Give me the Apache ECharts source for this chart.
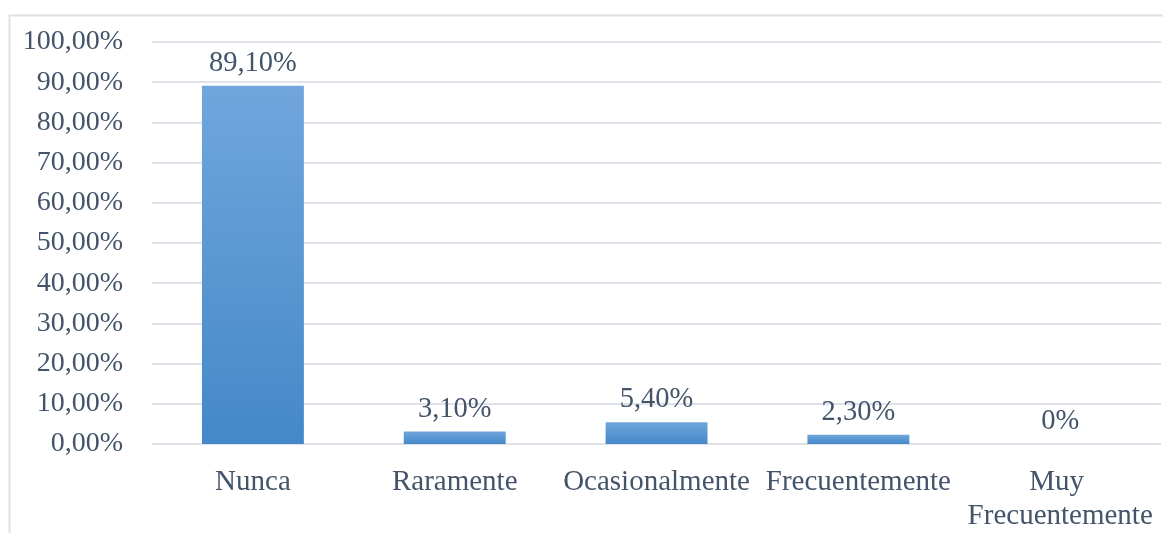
<!DOCTYPE html>
<html>
<head>
<meta charset="utf-8">
<script src="https://cdn.jsdelivr.net/npm/echarts@6/dist/echarts.min.js"></script>
<style>html,body{margin:0;padding:0;background:#fff}#c{width:1163px;height:533px}</style>
</head>
<body>
<div id="c"></div>
<script>
const categories = ['Nunca', 'Raramente', 'Ocasionalmente', 'Frecuentemente', 'Muy Frecuentemente'];
const values = [89.1, 3.1, 5.4, 2.3, 0];
const valueLabels = ['89,10%', '3,10%', '5,40%', '2,30%', '0%'];
const yMin = 0, yMax = 100, yStep = 10;

const font = "'Times New Roman', 'Liberation Serif', serif";
const textColor = '#44546a';
const chart = echarts.init(document.getElementById('c'));
chart.setOption({
  animation: false,
  backgroundColor: '#ffffff',
  graphic: [{
    type: 'rect', left: 7, top: 13, shape: { width: 1300, height: 700 },
    style: { fill: 'none', stroke: '#dde1e7', lineWidth: 2 }, silent: true, z: -1
  }],
  grid: { left: 152, right: 0, top: 42, bottom: 86, containLabel: false },
  xAxis: {
    type: 'category', data: categories,
    axisLine: { show: false }, axisTick: { show: false },
    axisLabel: {
      color: textColor, fontFamily: font, fontSize: 29, margin: 21,
      lineHeight: 34, width: 200, overflow: 'break', interval: 0
    }
  },
  yAxis: {
    type: 'value', min: yMin, max: yMax, interval: yStep,
    axisLine: { show: false }, axisTick: { show: false },
    splitLine: { lineStyle: { color: '#dfe3e9', width: 2 } },
    axisLabel: {
      color: textColor, fontFamily: font, fontSize: 28, margin: 29,
      padding: [5, 0, 0, 0],
      formatter: v => v.toFixed(2).replace('.', ',') + '%'
    }
  },
  series: [{
    type: 'bar', data: values, barWidth: '50.5%',
    itemStyle: {
      color: new echarts.graphic.LinearGradient(0, 0, 0, 1, [
        { offset: 0, color: '#71a6dc' },
        { offset: 1, color: '#4488c9' }
      ])
    },
    label: {
      show: true, position: 'top', distance: 8,
      color: textColor, fontFamily: font, fontSize: 28.5,
      formatter: p => valueLabels[p.dataIndex]
    }
  }]
});
</script>
</body>
</html>
